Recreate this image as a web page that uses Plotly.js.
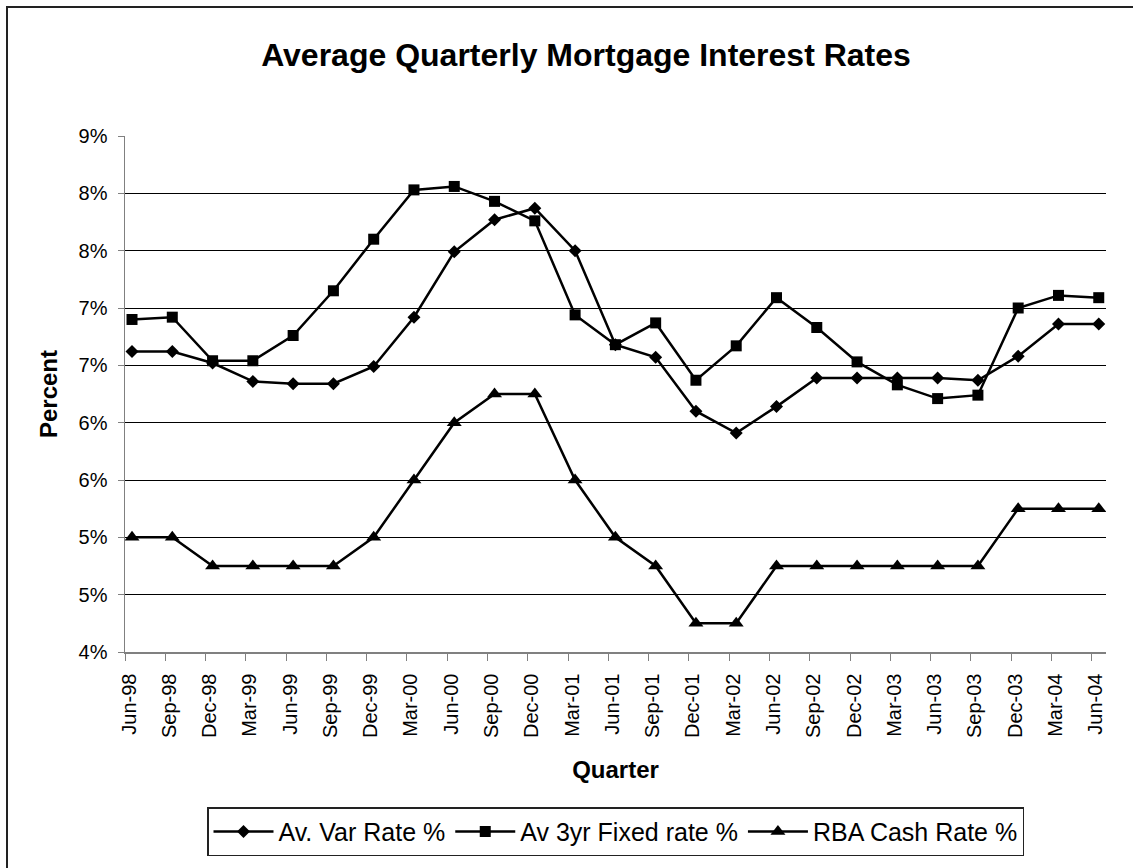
<!DOCTYPE html>
<html>
<head>
<meta charset="utf-8">
<script src="https://cdn.plot.ly/plotly-3.0.1.min.js"></script>
<style>
  html, body { margin: 0; padding: 0; background: #fff; overflow: hidden; width: 1133px; height: 868px; }
  #chart { position: absolute; left: 0; top: 0; width: 1133px; height: 868px; }
  #frame { position: absolute; left: 6px; top: 6px; width: 1127px; height: 862px;
           border-left: 2px solid #222; border-top: 2px solid #222; pointer-events: none; box-sizing: border-box; }
</style>
</head>
<body>
<div id="chart"></div>
<div id="frame"></div>
<script>
// ---- data ----
const quarters = ['Jun-98','Sep-98','Dec-98','Mar-99','Jun-99','Sep-99','Dec-99','Mar-00','Jun-00','Sep-00',
                  'Dec-00','Mar-01','Jun-01','Sep-01','Dec-01','Mar-02','Jun-02','Sep-02','Dec-02','Mar-03',
                  'Jun-03','Sep-03','Dec-03','Mar-04','Jun-04'];
const varRate = [6.62, 6.62, 6.52, 6.36, 6.34, 6.34, 6.49, 6.92, 7.49, 7.77,
                 7.87, 7.50, 6.68, 6.57, 6.10, 5.91, 6.14, 6.39, 6.39, 6.39,
                 6.39, 6.37, 6.58, 6.86, 6.86];
const fixed3yr = [6.90, 6.92, 6.54, 6.54, 6.76, 7.15, 7.60, 8.03, 8.06, 7.93,
                  7.76, 6.94, 6.68, 6.87, 6.37, 6.67, 7.09, 6.83, 6.53, 6.33,
                  6.21, 6.24, 7.00, 7.11, 7.09];
const rbaCash = [5.00, 5.00, 4.75, 4.75, 4.75, 4.75, 5.00, 5.50, 6.00, 6.25,
                 6.25, 5.50, 5.00, 4.75, 4.25, 4.25, 4.75, 4.75, 4.75, 4.75,
                 4.75, 4.75, 5.25, 5.25, 5.25];
const seriesNames = ['Av. Var Rate %', 'Av 3yr Fixed rate %', 'RBA Cash Rate %'];
const yTickVals = [4, 4.5, 5, 5.5, 6, 6.5, 7, 7.5, 8, 8.5];
const yTickLabels = ['4%','5%','5%','6%','6%','7%','7%','8%','8%','9%'];

// ---- chart ----
const FONT = '"Liberation Sans", Arial, sans-serif';
const idx = quarters.map((q, i) => i);
const tickOffset = 0.174;

function mk(name, y, symbol, size) {
  return {
    type: 'scatter', mode: 'lines+markers', name: name,
    x: idx, y: y,
    line: { color: '#000', width: 2.5 },
    marker: { symbol: symbol, size: size, color: '#000' },
    hoverinfo: 'skip'
  };
}

const traces = [
  mk(seriesNames[0], varRate, 'diamond', 10),
  mk(seriesNames[1], fixed3yr, 'square', 11),
  mk(seriesNames[2], rbaCash, 'triangle-up', 13)
];

const layout = {
  width: 1133, height: 868,
  paper_bgcolor: '#fff', plot_bgcolor: '#fff',
  margin: { l: 125, r: 27, t: 136, b: 200 },
  font: { family: FONT, color: '#000', size: 20 },
  showlegend: true,
  title: {
    text: '<b>Average Quarterly Mortgage Interest Rates</b>',
    font: { family: FONT, size: 32, color: '#000' },
    xref: 'container', x: 586 / 1133, xanchor: 'center',
    yref: 'container', y: 1 - 55 / 868, yanchor: 'middle'
  },
  xaxis: {
    type: 'linear',
    range: [-tickOffset, 24.18],
    tickvals: idx.map(i => i - tickOffset),
    ticktext: quarters,
    tickangle: -90,
    ticklabelshift: 4,
    ticklabelstandoff: 5,
    ticks: 'outside', ticklen: 7, tickwidth: 1, tickcolor: '#808080',
    tickfont: { family: FONT, size: 20, color: '#000' },
    showline: true, linecolor: '#808080', linewidth: 1.5,
    showgrid: false, zeroline: false, automargin: false,
    title: { text: '<b>Quarter</b>', font: { family: FONT, size: 24, color: '#000' }, standoff: 24 }
  },
  yaxis: {
    range: [4, 8.5],
    tickvals: yTickVals,
    ticktext: yTickLabels,
    ticks: 'outside', ticklen: 6, tickwidth: 1, tickcolor: '#808080',
    ticklabelstandoff: 6,
    tickfont: { family: FONT, size: 20, color: '#000' },
    showline: true, linecolor: '#808080', linewidth: 1.5,
    showgrid: true, gridcolor: '#000', gridwidth: 1,
    zeroline: false, automargin: false,
    title: { text: '<b>Percent</b>', font: { family: FONT, size: 24, color: '#000' }, standoff: 14 }
  },
  legend: {
    orientation: 'h',
    x: 0.5, xanchor: 'center',
    y: (668 - 828) / 532, yanchor: 'top',
    bordercolor: '#222', borderwidth: 1.5,
    bgcolor: '#fff',
    font: { family: FONT, size: 25, color: '#000' },
    itemwidth: 60,
    traceorder: 'normal'
  }
};

Plotly.newPlot('chart', traces, layout, { displayModeBar: false, staticPlot: true });
</script>
</body>
</html>
